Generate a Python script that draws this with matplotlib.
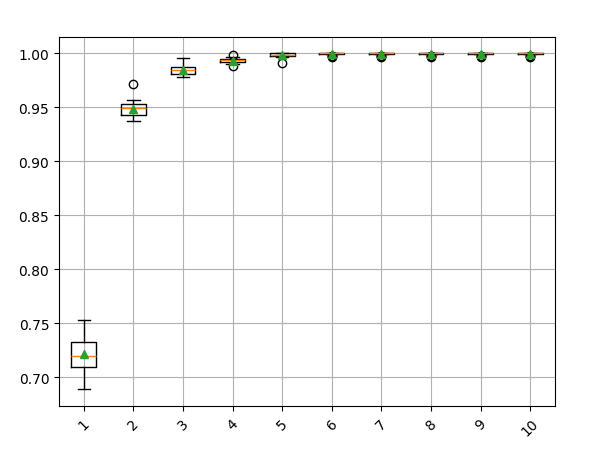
import numpy as np
import matplotlib
matplotlib.use("Agg")
import matplotlib.pyplot as plt

labels = ['1', '2', '3', '4', '5', '6', '7', '8', '9', '10']
medians = [0.7200, 0.9490, 0.9845, 0.9940, 0.9984, 1.0, 1.0, 1.0, 1.0, 1.0]
q1 = [0.7098, 0.9430, 0.9808, 0.9922, 0.9972, 0.9998, 0.9998, 0.9998, 0.9998, 0.9998]
q3 = [0.7324, 0.9530, 0.9870, 0.9950, 1.0, 1.0, 1.0, 1.0, 1.0, 1.0]
whislo = [0.6892, 0.9370, 0.9778, 0.9905, 0.9965, 0.9995, 0.9995, 0.9995, 0.9995, 0.9995]
whishi = [0.7528, 0.9568, 0.9957, 0.9962, 1.0, 1.0, 1.0, 1.0, 1.0, 1.0]
means = [0.7215, 0.9484, 0.9850, 0.9928, 0.9985, 0.9998, 0.9998, 0.9998, 0.9998, 0.9998]
fliers = [[], [0.9713], [], [0.9987, 0.9880], [0.9910],
          [0.9980, 0.9975, 0.9970], [0.9980, 0.9975, 0.9970], [0.9980, 0.9975, 0.9970],
          [0.9980, 0.9975, 0.9970], [0.9980, 0.9975, 0.9970]]

stats = []
for i in range(len(labels)):
    stats.append({'label': labels[i], 'med': medians[i], 'q1': q1[i], 'q3': q3[i],
                  'whislo': whislo[i], 'whishi': whishi[i], 'mean': means[i],
                  'fliers': np.array(fliers[i])})

fig = plt.figure(figsize=(5.93, 4.56), dpi=100)
ax = fig.add_subplot(111)
fig.subplots_adjust(left=0.0995, right=0.936, bottom=0.1075, top=0.9167)

ax.bxp(stats, showmeans=True,
       meanprops=dict(marker='^', markerfacecolor='C2', markeredgecolor='C2', zorder=3))
ax.set_ylim(0.6734, 1.0152)
ax.grid(True)
plt.xticks(rotation=45)

fig.savefig("out.png", dpi=100)
